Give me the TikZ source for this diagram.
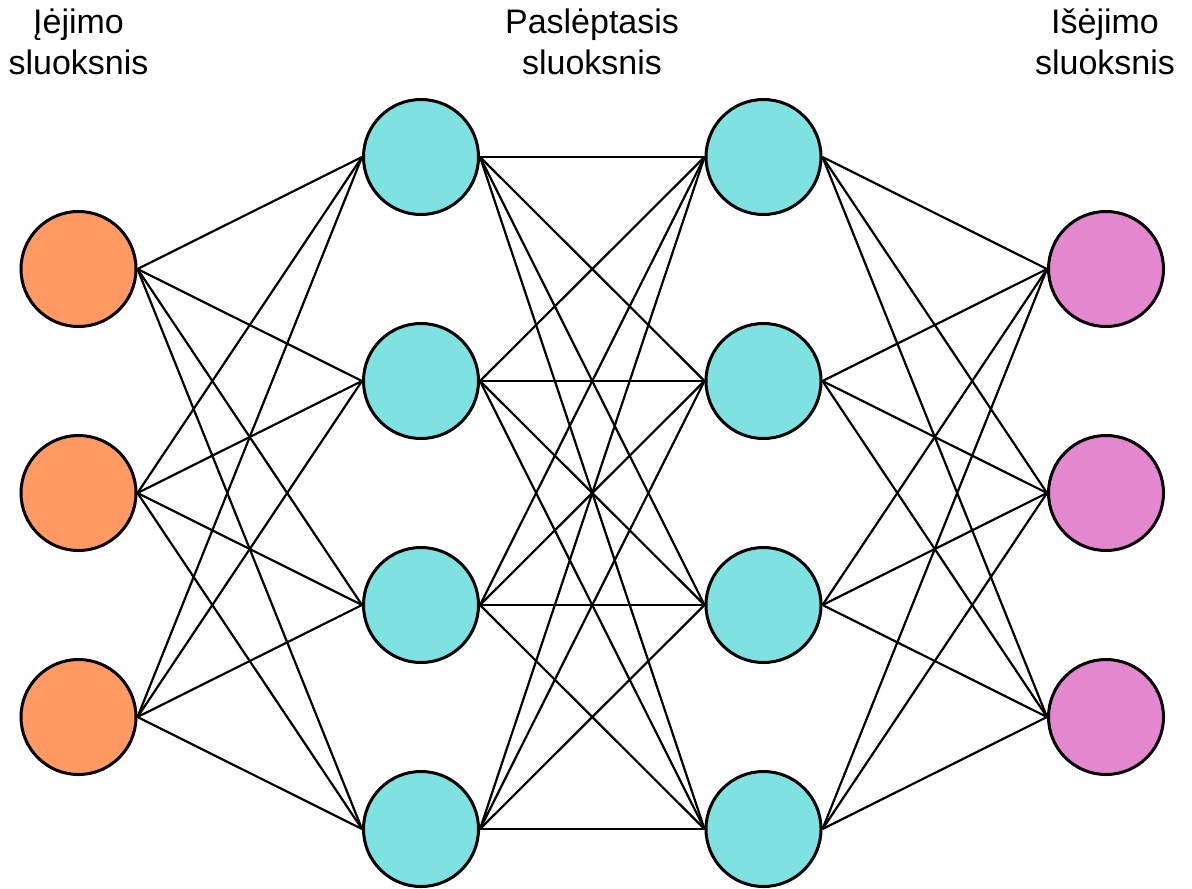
\documentclass[tikz,border=0pt]{standalone}
\usepackage{fontspec}
\setmainfont{Liberation Sans}
\usetikzlibrary{backgrounds}
\definecolor{inorange}{HTML}{FF9A62}
\definecolor{hidcyan}{HTML}{7EE2E0}
\definecolor{outpink}{HTML}{E387CF}
\begin{document}
\begin{tikzpicture}[x=0.5pt,y=-0.5pt,
  neuron/.style={circle,draw=black,line width=1.5pt,minimum size=57.5pt,inner sep=0pt},
  inneuron/.style={neuron,fill=inorange},
  hidneuron/.style={neuron,fill=hidcyan},
  outneuron/.style={neuron,fill=outpink},
  conn/.style={draw=black,line width=1.1pt},
  lbl/.style={align=center,font=\fontsize{17}{20.5}\selectfont,inner sep=0pt,anchor=base}]
\useasboundingbox (0,0) rectangle (1192,888);
\foreach \i/\y in {1/269,2/493,3/717}{
  \node[inneuron] (i\i) at (78.5,\y) {};
  \node[outneuron] (o\i) at (1106,\y) {};
}
\foreach \i/\y in {1/157,2/381,3/605,4/829}{
  \node[hidneuron] (a\i) at (421,\y) {};
  \node[hidneuron] (b\i) at (763.5,\y) {};
}
\begin{scope}[on background layer]
\foreach \s in {1,2,3}{\foreach \t in {1,2,3,4}{\draw[conn] (i\s.east) -- (a\t.west);}}
\foreach \s in {1,2,3,4}{\foreach \t in {1,2,3,4}{\draw[conn] (a\s.east) -- (b\t.west);}}
\foreach \s in {1,2,3,4}{\foreach \t in {1,2,3}{\draw[conn] (b\s.east) -- (o\t.west);}}
\end{scope}
\node[lbl] (l1) at (78.5,75) {Įėjimo\\sluoksnis};
\node[lbl] (l2) at (592,75) {Paslėptasis\\sluoksnis};
\node[lbl] (l3) at (1105,75) {Išėjimo\\sluoksnis};
\end{tikzpicture}
\end{document}
